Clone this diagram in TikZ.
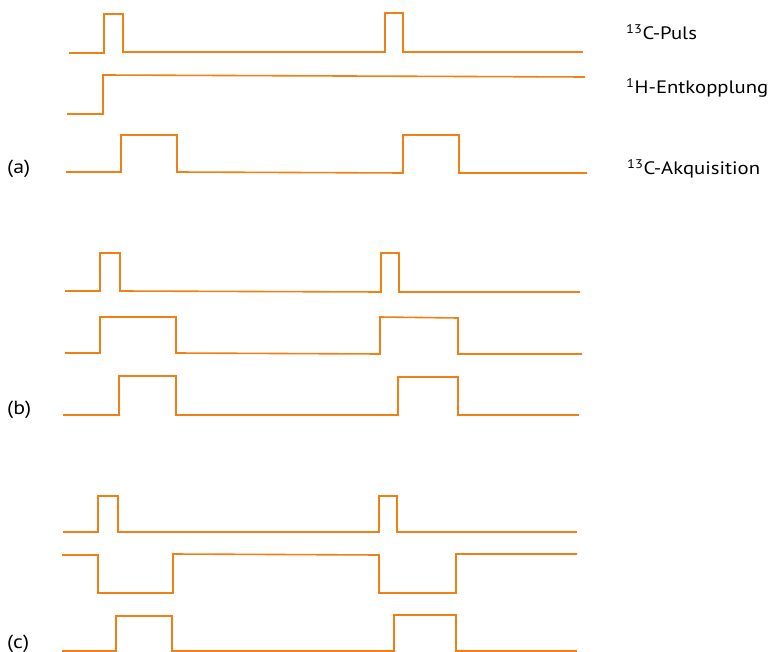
\documentclass[tikz,border=0pt]{standalone}
\usepackage{fontspec}
\setmainfont{PT Sans}
\definecolor{wavecol}{RGB}{240,128,20}
\newcommand{\wide}[1]{\scalebox{1.15}[1]{#1}}
\begin{document}
\begin{tikzpicture}[x=1pt,y=-1pt,
  wave/.style={draw=wavecol,line width=1.6pt,line join=miter},
  lbl/.style={inner sep=0pt,anchor=base west,font=\fontsize{18}{20}\selectfont},
  plbl/.style={inner sep=0pt,anchor=west,font=\fontsize{19}{21}\selectfont}]
\useasboundingbox (0,0) rectangle (768,652);
% panel (a)
\draw[wave] (69,53) -- (104,53) -- (104,14) -- (123,14) -- (123,52) -- (385,52) -- (385,13) -- (403,13) -- (403,52) -- (583,52);
\draw[wave] (67,114) -- (103,114) -- (103,75) -- (585,77);
\draw[wave] (66,172) -- (121,172) -- (121,135) -- (177,135) -- (177,172) -- (403,173) -- (403,135) -- (459,135) -- (459,173) -- (587,173);
% panel (b)
\draw[wave] (65,291) -- (100,291) -- (100,253) -- (120,253) -- (120,291) -- (381,292) -- (381,253) -- (399,253) -- (399,292) -- (580,292);
\draw[wave] (65,353) -- (100,353) -- (100,317) -- (176,317) -- (176,353) -- (380,354) -- (380,317) -- (458,318) -- (458,354) -- (582,354);
\draw[wave] (63,415) -- (119,415) -- (119,376) -- (176,376) -- (176,415) -- (398,415) -- (398,377) -- (458,377) -- (458,415) -- (579,415);
% panel (c)
\draw[wave] (63,532) -- (98,532) -- (98,496) -- (118,496) -- (118,532) -- (379,532) -- (379,496) -- (397,496) -- (397,532) -- (577,532);
\draw[wave] (62,555) -- (98,555) -- (98,593) -- (173,593) -- (173,554) -- (379,555) -- (379,593) -- (456,593) -- (456,554) -- (577,554);
\draw[wave] (62,651) -- (116,651) -- (116,616) -- (172,616) -- (172,651) -- (394,651) -- (394,615) -- (456,615) -- (456,651) -- (577,651);
% labels
\node[plbl] (la) at (7,169) {\wide{(a)}};
\node[plbl] (lb) at (7,410) {\wide{(b)}};
\node[plbl] (lc) at (7,644) {\wide{(c)}};
\node[lbl] (t1) at (626,40) {\wide{\textsuperscript{13}C-Puls}};
\node[lbl] (t2) at (626,94) {\wide{\textsuperscript{1}H-Entkopplung}};
\node[lbl] (t3) at (627,175) {\wide{\textsuperscript{13}C-Akquisition}};
\end{tikzpicture}
\end{document}
